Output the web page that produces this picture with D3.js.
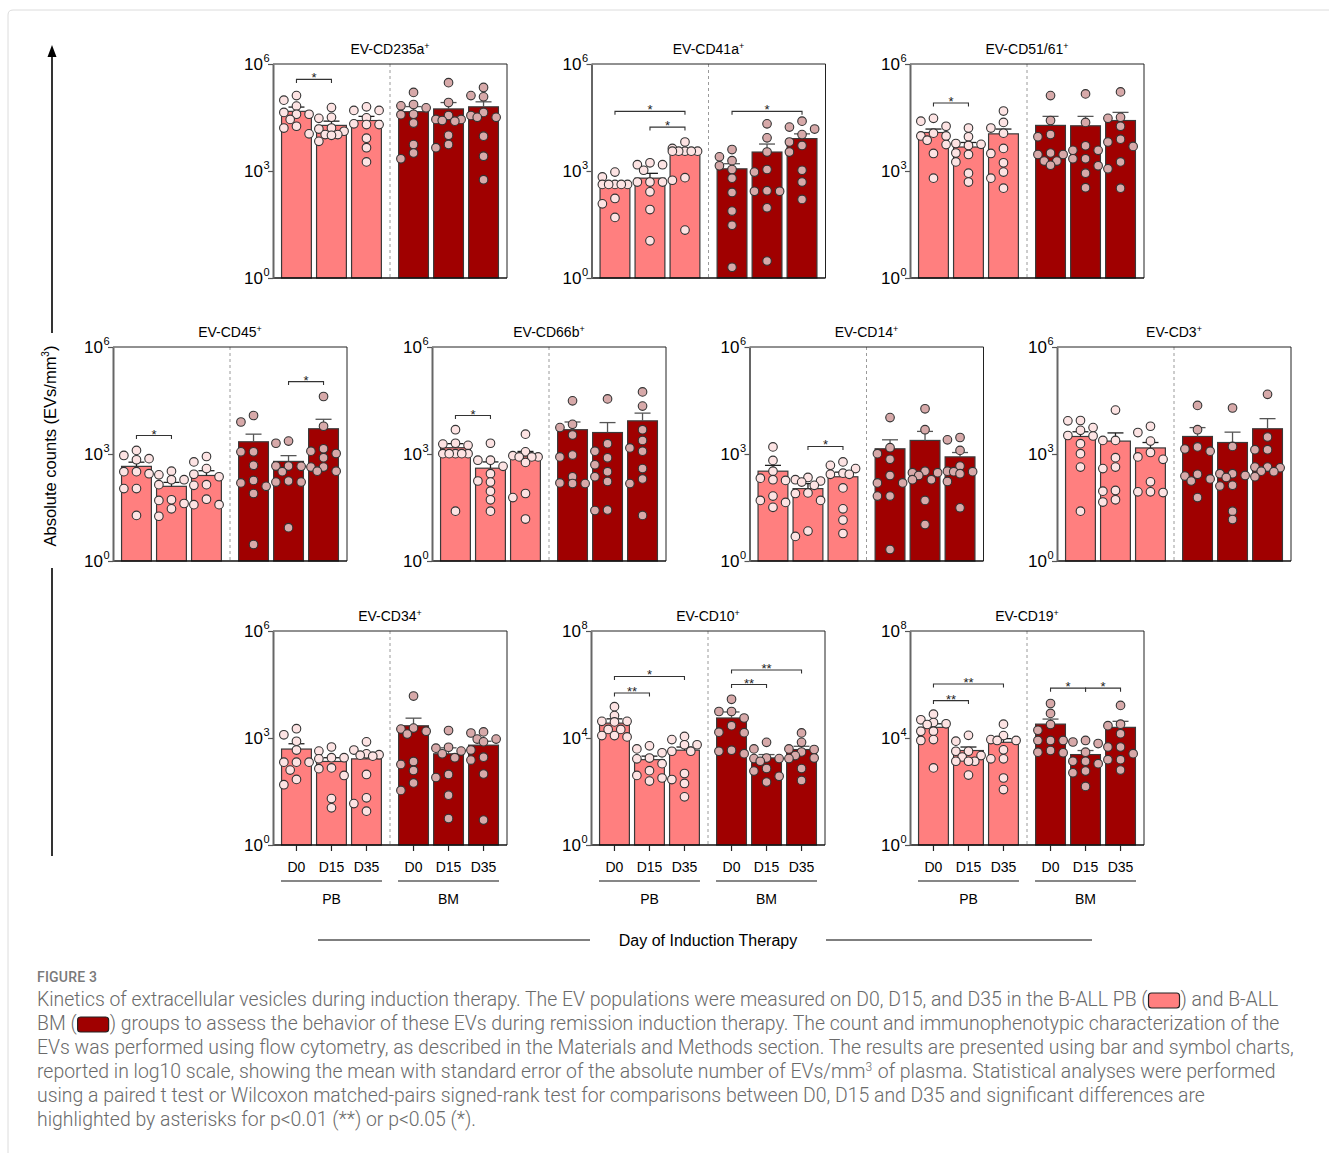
<!DOCTYPE html>
<html>
<head>
<meta charset="utf-8">
<script src="https://cdn.jsdelivr.net/npm/d3@7"></script>
<style>
  body { margin: 0; background: #fff; }
  svg { display: block; }
</style>
</head>
<body>
<svg id="fig" width="1329" height="1153"></svg>
<script>
// ---------- data ----------
const days = ["D0", "D15", "D35"];
const groups = ["PB", "BM"];

// bar order in every panel: PB D0, PB D15, PB D35, BM D0, BM D15, BM D35
// significance entries: [bar a, bar b, label, bracket level (EVs/mm3)]

const cd235aMean = [47000, 19000, 26000, 46000, 55000, 63000];
const cd235aSem  = [15000, 6000, 8000, 18000, 28000, 24000];
const cd235aPts = [
  [130000, 97000, 66000, 44000, 39000, 39000, 28000, 18000, 16000, 11000],
  [60000, 32000, 30000, 16000, 15000, 13000, 10500, 10500, 10000, 6800],
  [63000, 50000, 50000, 31000, 21000, 20000, 20000, 8300, 4500, 1800],
  [160000, 73000, 67000, 59000, 39000, 38000, 22000, 5500, 3200, 2200],
  [300000, 83000, 36000, 28000, 28000, 26000, 25000, 10000, 5500, 4500],
  [220000, 130000, 120000, 44000, 36000, 32000, 32000, 9500, 2600, 570]
];
const cd235aSig = [[0, 1, "*", 370000]];

const cd41aMean = [420, 630, 2900, 1150, 3400, 8100];
const cd41aSem  = [70, 230, 900, 450, 2300, 2900];
const cd41aPts = [
  [930, 680, 420, 420, 420, 420, 420, 170, 120, 50],
  [1700, 1500, 1500, 1050, 490, 490, 490, 260, 83, 11],
  [6500, 4300, 3600, 3600, 3600, 3600, 3600, 650, 550, 22],
  [4000, 2500, 1950, 1400, 1100, 630, 250, 75, 30, 2],
  [21000, 8500, 3400, 1100, 930, 280, 270, 270, 93, 3],
  [25000, 17000, 15000, 10500, 6500, 5200, 3400, 1050, 490, 160]
];
const cd41aSig = [[0, 2, "*", 47000], [1, 2, "*", 17000], [3, 5, "*", 47000]];

const cd5161Mean = [12000, 4700, 11000, 19000, 18500, 26000];
const cd5161Sem  = [3000, 1600, 4000, 15000, 15500, 18000];
const cd5161Pts = [
  [30000, 25000, 18000, 11500, 9600, 9600, 7300, 5500, 3100, 630],
  [16000, 9100, 5900, 5600, 5200, 3200, 2900, 1800, 870, 490],
  [48000, 23000, 16000, 11500, 4300, 3100, 1700, 930, 630, 330],
  [130000, 26000, 10500, 9100, 3200, 2900, 2900, 1900, 1900, 1450],
  [145000, 23000, 5100, 3800, 3800, 2200, 2200, 1400, 870, 340],
  [165000, 32000, 30000, 18000, 7800, 6500, 4900, 1800, 1150, 330]
];
const cd5161Sig = [[0, 1, "*", 81000]];

const cd45Mean = [450, 124, 250, 2200, 620, 5100];
const cd45Sem  = [140, 36, 90, 1400, 280, 4300];
const cd45Pts = [
  [1260, 910, 740, 690, 320, 320, 280, 107, 107, 19],
  [330, 260, 190, 190, 138, 52, 50, 41, 29, 18],
  [850, 600, 390, 270, 230, 138, 132, 54, 38, 38],
  [12000, 7900, 1150, 1150, 480, 182, 155, 124, 78, 2.9],
  [2300, 2000, 460, 460, 450, 320, 175, 163, 163, 8.6],
  [41000, 6000, 1400, 1200, 1030, 790, 430, 430, 330, 330]
];
const cd45Sig = [[0, 1, "*", 3300], [4, 5, "*", 107000]];

const cd66bMean = [1500, 400, 880, 4800, 4000, 8500];
const cd66bSem  = [450, 200, 300, 3100, 3600, 5500];
const cd66bPts = [
  [4800, 2000, 1900, 1750, 1020, 1020, 1020, 1020, 1020, 25],
  [2000, 670, 670, 450, 280, 175, 163, 91, 52, 25],
  [3600, 1150, 900, 830, 830, 830, 580, 78, 60, 15],
  [31000, 6800, 5500, 3400, 930, 830, 230, 155, 148, 148],
  [35000, 1950, 1200, 780, 500, 320, 230, 170, 27, 26],
  [55000, 22000, 4800, 2400, 1480, 1200, 390, 200, 148, 19]
];
const cd66bSig = [[0, 1, "*", 12000]];

const cd14Mean = [330, 107, 230, 1400, 2400, 830];
const cd14Sem  = [150, 41, 80, 1100, 1900, 270];
const cd14Pts = [
  [1580, 660, 330, 210, 190, 182, 66, 50, 44, 32],
  [220, 190, 175, 163, 132, 81, 78, 50, 6.9, 4.9],
  [600, 480, 390, 290, 270, 270, 112, 29, 14, 5.9],
  [10500, 1500, 1020, 710, 250, 155, 155, 66, 66, 2.1],
  [18500, 4800, 330, 300, 300, 250, 190, 190, 50, 10.5],
  [2900, 2500, 1260, 460, 330, 320, 320, 280, 170, 31]
];
const cd14Sig = [[1, 2, "*", 1630]];

const cd3Mean = [3100, 2300, 1480, 3100, 2100, 5100];
const cd3Sem  = [1100, 1600, 620, 2400, 2000, 4700];
const cd3Pts = [
  [8700, 8500, 5500, 4600, 3300, 3200, 1950, 1020, 430, 25],
  [17000, 2400, 2400, 790, 430, 390, 95, 91, 52, 45],
  [6000, 4000, 2300, 1100, 830, 710, 166, 87, 87, 83],
  [23000, 4800, 1580, 1380, 1200, 270, 240, 200, 175, 60],
  [19500, 1630, 280, 280, 250, 220, 132, 126, 25, 14.5],
  [47000, 3000, 1320, 1320, 430, 430, 410, 330, 320, 230]
];
const cd3Sig = [];

const cd34Mean = [490, 220, 260, 2200, 360, 630];
const cd34Sem  = [200, 60, 80, 1400, 170, 180];
const cd34Pts = [
  [1820, 1230, 810, 460, 210, 210, 210, 126, 69, 49],
  [560, 430, 280, 280, 260, 145, 138, 89, 20, 11],
  [780, 460, 360, 340, 330, 310, 95, 21, 14.5, 8.9],
  [15000, 1900, 1780, 1550, 1290, 220, 182, 123, 55, 34],
  [1620, 550, 520, 430, 360, 280, 95, 78, 25, 5.5],
  [1480, 1380, 930, 930, 780, 460, 290, 240, 98, 5]
];
const cd34Sig = [];

const cd10Mean = [36000, 1550, 3500, 56000, 1800, 3700];
const cd10Sem  = [16000, 550, 1100, 38000, 600, 1200];
const cd10Pts = [
  [148000, 69000, 42000, 42000, 40000, 21000, 21000, 12300, 12300, 11000],
  [5100, 3900, 2800, 1780, 1660, 1100, 600, 400, 320, 245],
  [11500, 8700, 5600, 5600, 3200, 3200, 470, 280, 200, 63],
  [280000, 98000, 98000, 56000, 29000, 16500, 15800, 3500, 3200, 2600],
  [6900, 3900, 1780, 1700, 1700, 1350, 720, 580, 370, 225],
  [15500, 6900, 3900, 3700, 3000, 2200, 1780, 1700, 720, 260]
];
const cd10Sig = [[0, 1, "**", 480000], [0, 2, "*", 2000000], [3, 4, "**", 1000000], [3, 5, "**", 3500000]];

const cd19Mean = [25000, 3400, 6900, 33000, 2400, 25000];
const cd19Sem  = [9000, 1200, 2600, 18000, 1000, 17000];
const cd19Pts = [
  [78000, 48000, 38000, 34000, 32000, 17800, 17800, 8700, 8100, 760],
  [12600, 7600, 3200, 3200, 2200, 1950, 1350, 1350, 1350, 410],
  [33000, 12300, 8700, 8100, 8100, 3600, 1660, 1660, 320, 118],
  [195000, 83000, 32000, 19500, 8100, 8100, 8100, 3400, 2950, 2800],
  [8100, 7100, 6200, 2950, 1350, 1350, 1100, 580, 500, 155],
  [165000, 33000, 29000, 14500, 4600, 4600, 2600, 1550, 1550, 630]
];
const cd19Sig = [[0, 1, "**", 250000], [0, 2, "**", 1050000], [3, 4, "*", 730000], [4, 5, "*", 730000]];

const markers = ["CD235a", "CD41a", "CD51/61", "CD45", "CD66b", "CD14", "CD3", "CD34", "CD10", "CD19"];
const axisMax = [1e6, 1e6, 1e6, 1e6, 1e6, 1e6, 1e6, 1e6, 1e8, 1e8];

const captionLines = [
  ["Kinetics of extracellular vesicles during induction therapy. The EV populations were measured on D0, D15, and D35 in the B-ALL PB (", "PB", ") and B-ALL"],
  ["BM (", "BM", ") groups to assess the behavior of these EVs during remission induction therapy. The count and immunophenotypic characterization of the"],
  ["EVs was performed using flow cytometry, as described in the Materials and Methods section. The results are presented using bar and symbol charts,"],
  ["reported in log10 scale, showing the mean with standard error of the absolute number of EVs/mm", "^3", " of plasma. Statistical analyses were performed"],
  ["using a paired t test or Wilcoxon matched-pairs signed-rank test for comparisons between D0, D15 and D35 and significant differences are"],
  ["highlighted by asterisks for p<0.01 (**) or p<0.05 (*)."]
];

// ---------- styling ----------
const FONT = "'Liberation Sans', Arial, sans-serif";
const barFill = { PB: "#FF7F7F", BM: "#A00000" };
const dotFill = { PB: "#FDE3E3", BM: "#D7A9A9" };
const errColor = { PB: "#1e1e1e", BM: "#555" };
const PW = 234, PH = 214, R = 4.3, STEP = 6.3;

const panels = [
  { mean: cd235aMean, sem: cd235aSem, pts: cd235aPts, sig: cd235aSig, x: 273,   y: 64 },
  { mean: cd41aMean,  sem: cd41aSem,  pts: cd41aPts,  sig: cd41aSig,  x: 591.5, y: 64 },
  { mean: cd5161Mean, sem: cd5161Sem, pts: cd5161Pts, sig: cd5161Sig, x: 910,   y: 64 },
  { mean: cd45Mean,   sem: cd45Sem,   pts: cd45Pts,   sig: cd45Sig,   x: 113,   y: 347 },
  { mean: cd66bMean,  sem: cd66bSem,  pts: cd66bPts,  sig: cd66bSig,  x: 432,   y: 347 },
  { mean: cd14Mean,   sem: cd14Sem,   pts: cd14Pts,   sig: cd14Sig,   x: 749.5, y: 347 },
  { mean: cd3Mean,    sem: cd3Sem,    pts: cd3Pts,    sig: cd3Sig,    x: 1057,  y: 347 },
  { mean: cd34Mean,   sem: cd34Sem,   pts: cd34Pts,   sig: cd34Sig,   x: 273,   y: 631, xLabels: true },
  { mean: cd10Mean,   sem: cd10Sem,   pts: cd10Pts,   sig: cd10Sig,   x: 591,   y: 631, xLabels: true },
  { mean: cd19Mean,   sem: cd19Sem,   pts: cd19Pts,   sig: cd19Sig,   x: 910,   y: 631, xLabels: true }
];

const svg = d3.select("#fig");

// light card border
svg.append("path")
  .attr("d", "M8,1153 V15 Q8,10 13,10 H1329")
  .attr("fill", "none").attr("stroke", "#dcdcdc").attr("stroke-width", 1);

// simple beeswarm: spread points sideways when they would overlap
function swarmOffsets(pix) {
  const order = d3.range(pix.length).sort((a, b) => pix[a] - pix[b]);
  const placed = [];
  const off = new Array(pix.length);
  const cands = [0, -2, 2, -1, 1].map(k => k * STEP);
  for (const i of order) {
    let chosen = null, bestD = -1, bestC = 0;
    for (const c of cands) {
      let md = Infinity;
      for (const p of placed) md = Math.min(md, Math.hypot(p.x - c, p.y - pix[i]));
      if (md >= 2 * R - 0.3) { chosen = c; break; }
      if (md > bestD) { bestD = md; bestC = c; }
    }
    if (chosen === null) chosen = bestC;
    off[i] = chosen;
    placed.push({ x: chosen, y: pix[i] });
  }
  return off;
}

panels.forEach((p, k) => {
  const g = svg.append("g").attr("transform", `translate(${p.x},${p.y})`);
  const xg = d3.scaleBand().domain(groups).range([0, PW]).paddingInner(0.137).paddingOuter(0.068);
  const xd = d3.scaleBand().domain(days).range([0, xg.bandwidth()]).paddingInner(0.114).paddingOuter(0);
  const y = d3.scaleLog().domain([1, axisMax[k]]).range([PH, 0]);
  const grp = i => groups[Math.floor(i / 3)];
  const cx = i => xg(grp(i)) + xd(days[i % 3]) + xd.bandwidth() / 2;
  const bw = xd.bandwidth();

  // separator between PB and BM
  const sepX = (xg("PB") + xg.bandwidth() + xg("BM")) / 2;
  g.append("line").attr("x1", sepX).attr("x2", sepX).attr("y1", 0).attr("y2", PH)
    .attr("stroke", "#9a9a9a").attr("stroke-width", 1).attr("stroke-dasharray", "3,3");

  // bars
  g.selectAll("rect.bar").data(p.mean).join("rect").attr("class", "bar")
    .attr("x", (d, i) => cx(i) - (bw - 1.2) / 2)
    .attr("width", bw - 1.2)
    .attr("y", d => y(d))
    .attr("height", d => PH - y(d))
    .attr("fill", (d, i) => barFill[grp(i)])
    .attr("stroke", "#3a3a3a").attr("stroke-width", 1.2);

  // error bars (mean + SEM)
  p.mean.forEach((m, i) => {
    const top = y(m + p.sem[i]);
    const col = errColor[grp(i)];
    g.append("line").attr("x1", cx(i)).attr("x2", cx(i)).attr("y1", y(m)).attr("y2", top)
      .attr("stroke", col).attr("stroke-width", 1.3);
    g.append("line").attr("x1", cx(i) - 8).attr("x2", cx(i) + 8).attr("y1", top).attr("y2", top)
      .attr("stroke", col).attr("stroke-width", 1.3);
  });

  // individual points
  p.pts.forEach((vals, i) => {
    const pix = vals.map(v => y(v));
    const off = swarmOffsets(pix);
    g.selectAll(null).data(vals).join("circle")
      .attr("cx", (d, j) => cx(i) + off[j])
      .attr("cy", d => y(d))
      .attr("r", R)
      .attr("fill", dotFill[grp(i)])
      .attr("stroke", "#333").attr("stroke-width", 1.1);
  });

  // frame: top and right edges, bottom axis line
  g.append("line").attr("x1", 0).attr("x2", PW).attr("y1", 0).attr("y2", 0)
    .attr("stroke", "#222").attr("stroke-width", 1);
  g.append("line").attr("x1", PW).attr("x2", PW).attr("y1", 0).attr("y2", PH)
    .attr("stroke", "#222").attr("stroke-width", 1);
  g.append("line").attr("x1", 0).attr("x2", PW).attr("y1", PH).attr("y2", PH)
    .attr("stroke", "#111").attr("stroke-width", 1.4);

  // y axis
  const exps = axisMax[k] === 1e8 ? [1, 1e4, 1e8] : [1, 1e3, 1e6];
  const ax = g.append("g").call(
    d3.axisLeft(y).tickValues(exps).tickSize(5).tickSizeOuter(0).tickPadding(-1.5)
      .tickFormat(d => String(Math.round(Math.log10(d))))
  );
  ax.select(".domain").attr("stroke", "#666").attr("stroke-width", 2);
  ax.selectAll(".tick line").attr("stroke", "#555").attr("stroke-width", 1.2);
  ax.selectAll(".tick text").each(function () {
    const t = d3.select(this);
    const e = t.text();
    t.text(null).attr("font-family", FONT).attr("font-size", 17).attr("fill", "#000").attr("dy", "0.35em");
    t.append("tspan").text("10");
    t.append("tspan").attr("font-size", 11).attr("dy", -8).attr("dx", 0.5).text(e);
  });

  // significance brackets
  p.sig.forEach(([a, b, lab, lvl]) => {
    const yy = y(lvl);
    g.append("path")
      .attr("d", `M${cx(a)},${yy + 3.5} V${yy} H${cx(b)} V${yy + 3.5}`)
      .attr("fill", "none").attr("stroke", "#333").attr("stroke-width", 1.1);
    g.append("text").attr("x", (cx(a) + cx(b)) / 2).attr("y", yy + 3)
      .attr("text-anchor", "middle").attr("font-family", FONT).attr("font-size", 13)
      .attr("fill", "#222").text(lab);
  });

  // title
  const title = g.append("text").attr("x", PW / 2).attr("y", -10)
    .attr("text-anchor", "middle").attr("font-family", FONT).attr("font-size", 14).attr("fill", "#000");
  title.append("tspan").text("EV-" + markers[k]);
  title.append("tspan").attr("font-size", 9).attr("dy", -5).text("+");

  // day / compartment labels under the bottom row
  if (p.xLabels) {
    d3.range(6).forEach(i => {
      g.append("line").attr("x1", cx(i)).attr("x2", cx(i)).attr("y1", PH).attr("y2", PH + 6)
        .attr("stroke", "#222").attr("stroke-width", 1.2);
      g.append("text").attr("x", cx(i)).attr("y", PH + 27).attr("text-anchor", "middle")
        .attr("font-family", FONT).attr("font-size", 14).attr("fill", "#000").text(days[i % 3]);
    });
    groups.forEach(gr => {
      const x0 = xg(gr), x1 = xg(gr) + xg.bandwidth();
      g.append("line").attr("x1", x0).attr("x2", x1).attr("y1", PH + 36).attr("y2", PH + 36)
        .attr("stroke", "#111").attr("stroke-width", 1.1);
      g.append("text").attr("x", (x0 + x1) / 2).attr("y", PH + 59).attr("text-anchor", "middle")
        .attr("font-family", FONT).attr("font-size", 14).attr("fill", "#000").text(gr);
    });
  }
});

// shared y label with arrow
svg.append("line").attr("x1", 52).attr("x2", 52).attr("y1", 856).attr("y2", 568)
  .attr("stroke", "#000").attr("stroke-width", 1.6);
svg.append("line").attr("x1", 52).attr("x2", 52).attr("y1", 333).attr("y2", 54)
  .attr("stroke", "#000").attr("stroke-width", 1.6);
svg.append("path").attr("d", "M52,45 L47.5,57 L56.5,57 Z").attr("fill", "#000");
const yl = svg.append("text").attr("transform", "translate(52,446) rotate(-90)")
  .attr("text-anchor", "middle").attr("dominant-baseline", "middle")
  .attr("font-family", FONT).attr("font-size", 16.5).attr("fill", "#000");
yl.append("tspan").text("Absolute counts (EVs/mm");
yl.append("tspan").attr("font-size", 10).attr("dy", -6).text("3");
yl.append("tspan").attr("dy", 6).text(")");

// shared x label
svg.append("line").attr("x1", 318).attr("x2", 590).attr("y1", 940).attr("y2", 940)
  .attr("stroke", "#000").attr("stroke-width", 1.2);
svg.append("line").attr("x1", 826).attr("x2", 1092).attr("y1", 940).attr("y2", 940)
  .attr("stroke", "#000").attr("stroke-width", 1.2);
svg.append("text").attr("x", 708).attr("y", 946).attr("text-anchor", "middle")
  .attr("font-family", FONT).attr("font-size", 16).attr("fill", "#000")
  .text("Day of Induction Therapy");

// caption
const CAPF = "Roboto, 'Open Sans', sans-serif";
svg.append("text").attr("x", 37).attr("y", 982).attr("font-family", CAPF).attr("font-size", 14)
  .attr("font-weight", 500).attr("fill", "#7a7a7a").attr("letter-spacing", 0.2).text("FIGURE 3");

// size the caption font so the third line spans the text block width
const probe = svg.append("text").attr("font-family", CAPF).attr("font-size", 17)
  .attr("font-weight", 300).text(captionLines[2][0]);
const natural = probe.node().getComputedTextLength();
probe.remove();
const capSize = 17 * 1257 / natural;

captionLines.forEach((parts, li) => {
  const yb = 1006 + li * 24;
  let x = 37;
  parts.forEach(part => {
    if (part === "PB" || part === "BM") {
      svg.append("rect").attr("x", x + 1).attr("y", yb - 13).attr("width", 31).attr("height", 15)
        .attr("rx", 3).attr("fill", barFill[part]).attr("stroke", "#222").attr("stroke-width", 1.2);
      x += 33;
    } else if (part.startsWith("^")) {
      const t = svg.append("text").attr("x", x).attr("y", yb - 7).attr("font-family", CAPF)
        .attr("font-size", capSize * 0.62).attr("font-weight", 300).attr("fill", "#6a6a6a")
        .style("white-space", "pre").text(part.slice(1));
      x += t.node().getComputedTextLength() + 1;
    } else {
      const t = svg.append("text").attr("x", x).attr("y", yb).attr("font-family", CAPF)
        .attr("font-size", capSize).attr("font-weight", 300).attr("fill", "#6a6a6a")
        .style("white-space", "pre").text(part);
      x += t.node().getComputedTextLength();
    }
  });
});
</script>
</body>
</html>
